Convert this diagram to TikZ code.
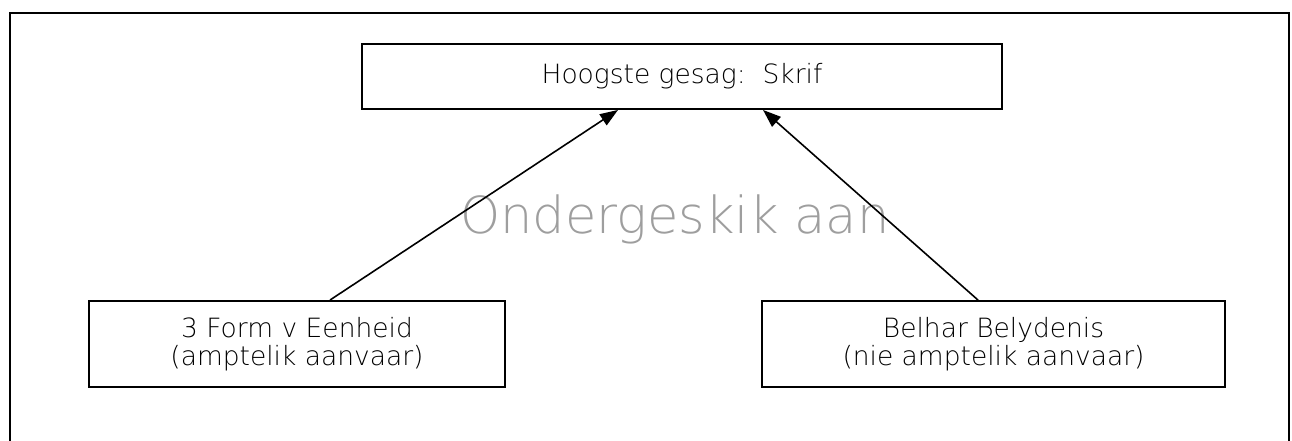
\documentclass[tikz,border=0pt]{standalone}
\usepackage{fontspec}
\setmainfont{DejaVu Sans ExtraLight}
\usetikzlibrary{arrows.meta}
\begin{document}
\begin{tikzpicture}[x=1pt,y=-1pt,
  box/.style={draw,line width=1.9pt,minimum width=#1,minimum height=86pt,inner sep=0pt,align=center,font=\fontsize{26.5}{28.5}\selectfont,text=black},
  conn/.style={line width=1.6pt,-{Triangle[length=18pt,width=13pt]}}]
\useasboundingbox (0,0) rectangle (1292,441);
\draw[line width=2.9pt] (10,445) -- (10,13) -- (1289,13) -- (1289,445);
\node[box=640pt,minimum height=65pt] (top) at (682,76.5) {Hoogste gesag:\ \ Skrif};
\node[box=416pt] (left) at (297,344) {3 Form v Eenheid\\(amptelik aanvaar)};
\node[box=463pt] (right) at (993.5,344) {Belhar Belydenis\\(nie amptelik aanvaar)};
\node[anchor=base,text=black!38,font=\fontsize{51}{60}\selectfont,inner sep=0pt] (wm) at (675,233) {Ondergeskik aan};
\draw[conn] ([xshift=33pt]left.north) -- ([xshift=-64pt]top.south);
\draw[conn] ([xshift=-15.5pt]right.north) -- ([xshift=81pt]top.south);
\end{tikzpicture}
\end{document}
